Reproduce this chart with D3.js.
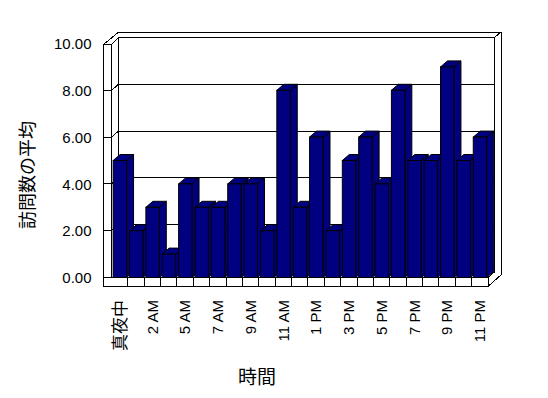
<!DOCTYPE html>
<html><head><meta charset="utf-8">
<script src="https://cdn.jsdelivr.net/npm/d3@7"></script>
<style>body{margin:0;background:#fff} svg{display:block}</style>
</head><body><svg id="c" width="548" height="398"></svg>
<script>
const categories = ["真夜中","1 AM","2 AM","3 AM","5 AM","6 AM","7 AM","8 AM","9 AM","10 AM","11 AM","12 PM","1 PM","2 PM","3 PM","4 PM","5 PM","6 PM","7 PM","8 PM","9 PM","10 PM","11 PM"];
const values = [5,2,3,1,4,3,3,4,4,2,8,3,6,2,5,6,4,8,5,5,9,5,6];
const yTicks = [0,2,4,6,8,10];
const shownLabels = ["真夜中","2 AM","5 AM","7 AM","9 AM","11 AM","1 PM","3 PM","5 PM","7 PM","9 PM","11 PM"];
const yTitle = "訪問数の平均";
const xTitle = "時間";

const svg = d3.select("#c");
const DX = 7, DY = 6;
const wallL = 103.5, wallR = 111.5;
const floorTop = 277.5, floorBot = 286.5;
const x = d3.scaleBand().domain(categories).range([111.5, 488]).padding(0);
const y = d3.scaleLinear().domain([0, 10]).range([277.5, 43.5]);
const yb = v => y(v) - DY;
const bw = x.bandwidth();
const backL = wallR + DX, backR = 494.5;
const line = (d) => svg.append("path").attr("d", d).attr("fill", "none").attr("stroke", "#000").attr("stroke-width", 1).attr("shape-rendering", "crispEdges");

// walls
line(`M${wallL},${floorBot}V${y(10)+1}H${wallR}V${floorTop}`);
line(`M${wallL},${y(10)+1}L${wallL+2*DX+0.5},${y(10)+1-2*DY}H${backR+DX}V${floorBot-2*DY}L488,${floorBot}H${wallL}`);
line(`M${wallR},${y(10)+1}L${backL},${yb(10)}H${backR}L${backR+DX},${yb(10)-DY}`);
line(`M${backL},${yb(10)}V${yb(0)}`);
line(`M${backR},${yb(10)}V${yb(0)}`);
line(`M${backL},${yb(0)}H${backR}`);
line(`M${wallR},${floorTop}H488L${488+DX},${floorTop-DY}`);

// gridlines + ticks
yTicks.filter(v => v > 0 && v < 10).forEach(v => {
  line(`M${wallL},${y(v)}H${wallR}L${backL},${yb(v)}H${backR}`);
});
line(`M${wallL},${y(0)}H${wallR}`);

// y axis labels via d3 axis
const ya = svg.append("g").attr("transform", `translate(${wallL},0)`)
  .call(d3.axisLeft(y).tickValues(yTicks).tickSize(0).tickPadding(12).tickFormat(d3.format(".2f")));
ya.select(".domain").remove();
ya.selectAll("text").attr("font-family", "'Liberation Sans', Arial, sans-serif").attr("font-size", 15).attr("fill", "#000").attr("dy", "0.35em");

// bars
const bars = svg.append("g");
categories.forEach((c, i) => {
  const v = values[i];
  const x0 = x(c) + bw * 0.1, x1 = x0 + bw * 0.82;
  const yt = y(v), y0 = y(0);
  const g = bars.append("g").attr("fill", "#000080").attr("stroke", "#000").attr("stroke-width", 1).attr("stroke-linejoin", "miter");
  g.append("path").attr("d", `M${x1},${yt}L${x1+DX},${yt-DY}V${y0-DY}L${x1},${y0}Z`);
  g.append("path").attr("d", `M${x0},${yt}L${x0+DX},${yt-DY}H${x1+DX}L${x1},${yt}Z`);
  g.append("rect").attr("x", x0).attr("y", yt).attr("width", x1 - x0).attr("height", y0 - yt);
});

// floor front face ticks
categories.forEach((c, i) => {
  if (i > 0) line(`M${x(c)},${floorTop}V${floorBot}`);
});
line(`M488,${floorTop}V${floorBot}`);

// x labels
const cjk = /[\u3040-\u9fff]/;
svg.append("g").selectAll("text").data(shownLabels).join("text")
  .attr("transform", d => `translate(${x(d) + bw / 2},300) rotate(-90)`)
  .attr("text-anchor", "end").attr("dy", "0.35em")
  .attr("font-family", d => cjk.test(d) ? "'Noto Sans CJK JP', sans-serif" : "'Liberation Sans', Arial, sans-serif")
  .attr("font-size", d => cjk.test(d) ? 17 : 15)
  .attr("fill", "#000")
  .text(d => d);

// titles
svg.append("text").attr("transform", "translate(28,175) rotate(-90)")
  .attr("text-anchor", "middle").attr("dy", "0.35em")
  .attr("font-family", "'Noto Sans CJK JP', sans-serif").attr("font-size", 18).attr("fill", "#000")
  .text(yTitle);
svg.append("text").attr("x", 257).attr("y", 377).attr("text-anchor", "middle").attr("dy", "0.35em")
  .attr("font-family", "'Noto Sans CJK JP', sans-serif").attr("font-size", 19).attr("fill", "#000")
  .text(xTitle);
</script></body></html>
